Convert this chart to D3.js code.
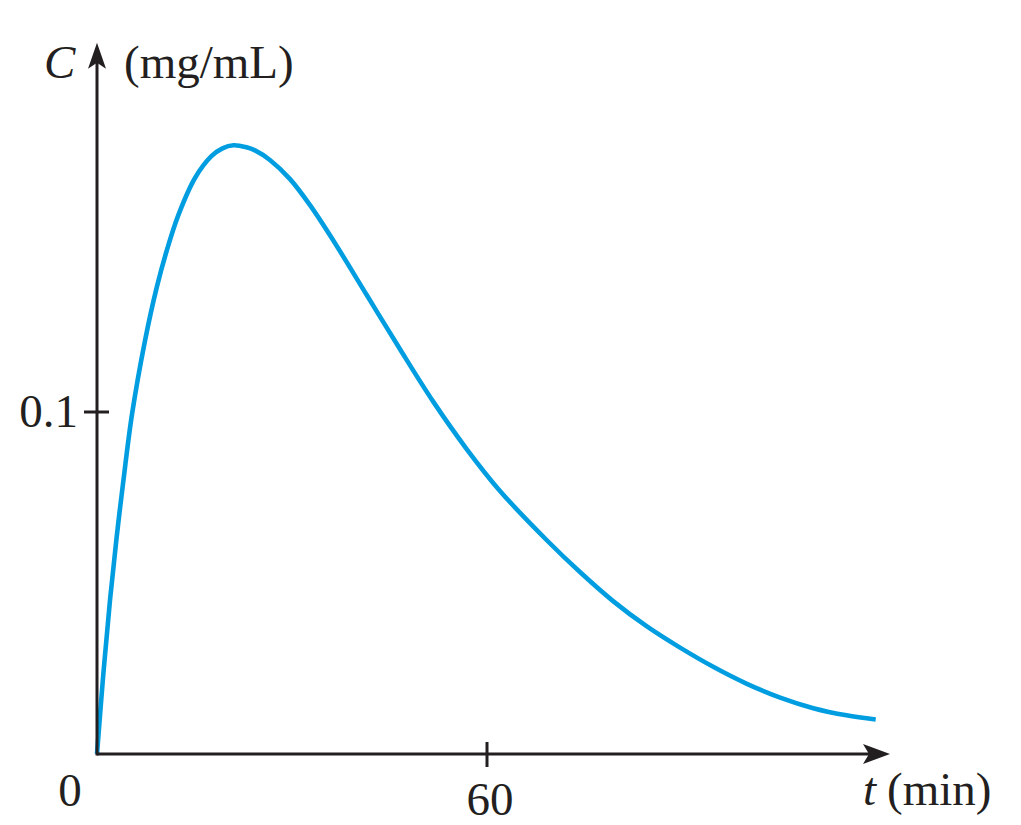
<!DOCTYPE html>
<html>
<head>
<meta charset="utf-8">
<script src="https://cdn.jsdelivr.net/npm/d3@7"></script>
<style>
  html, body { margin: 0; padding: 0; background: #fff; }
  svg { display: block; }
  text { font-family: "Liberation Serif", "Times New Roman", serif; fill: #231f20; }
</style>
</head>
<body>
<svg id="chart" width="1021" height="825"></svg>
<script>
// Data
const times = [0, 1, 2, 3, 4, 5.4, 7.4, 9.2, 10.7, 12.5, 15.1, 17.6, 19.3, 21.0, 23.0, 24.3, 26.6, 29.7, 32.8, 36.4, 41.5, 46.6, 51.7, 56.9, 62.0, 69.2, 74.3, 79.4, 84.6, 89.7, 94.8, 99.9, 105.1, 110.2, 115.3, 119.8];
const conc  = [0, 0.024, 0.045, 0.063, 0.079, 0.0995, 0.121, 0.1365, 0.147, 0.1575, 0.1685, 0.1748, 0.1771, 0.1780, 0.1774, 0.1765, 0.1737, 0.1681, 0.1604, 0.1500, 0.1342, 0.1184, 0.1031, 0.0891, 0.0769, 0.0625, 0.0532, 0.0447, 0.0373, 0.0311, 0.0255, 0.0206, 0.0165, 0.0134, 0.0113, 0.0101];
const xTicks = [60];
const yTicks = [0.1];
const xTickLabels = ["60"];
const yTickLabels = ["0.1"];
const originLabel = "0";
const xAxisMax = 122;    // where the arrow tip sits
const yAxisMax = 0.208;

const svg = d3.select("#chart");
const x = d3.scaleLinear().domain([0, 120]).range([97, 877]);
const y = d3.scaleLinear().domain([0, 0.1]).range([754, 412]);
const ink = "#231f20";

// Curve
const line = d3.line()
  .x((d, i) => x(times[i]))
  .y(d => y(d))
  .curve(d3.curveCatmullRom.alpha(0.5));
svg.append("path")
  .datum(conc)
  .attr("d", line)
  .attr("fill", "none")
  .attr("stroke", "#009ee0")
  .attr("stroke-width", 4.6)
  .attr("stroke-linecap", "butt");

// Axes lines
svg.append("line")
  .attr("x1", x(0)).attr("x2", x(xAxisMax) - 10)
  .attr("y1", y(0)).attr("y2", y(0))
  .attr("stroke", ink).attr("stroke-width", 3);
svg.append("line")
  .attr("x1", x(0)).attr("x2", x(0))
  .attr("y1", y(0) + 1.5).attr("y2", y(yAxisMax) + 10)
  .attr("stroke", ink).attr("stroke-width", 3);

// Arrowheads
const xt = x(xAxisMax), yt = y(0);
svg.append("path")
  .attr("d", `M${xt},${yt} L${xt - 27},${yt - 10} L${xt - 21},${yt} L${xt - 27},${yt + 10} Z`)
  .attr("fill", ink);
const ax = x(0), ay = y(yAxisMax);
svg.append("path")
  .attr("d", `M${ax},${ay} L${ax - 9},${ay + 26} L${ax},${ay + 20} L${ax + 9},${ay + 26} Z`)
  .attr("fill", ink);

// Ticks
svg.selectAll(".xt").data(xTicks).enter().append("line")
  .attr("x1", d => x(d)).attr("x2", d => x(d))
  .attr("y1", y(0) - 12).attr("y2", y(0) + 13)
  .attr("stroke", ink).attr("stroke-width", 3);
svg.selectAll(".yt").data(yTicks).enter().append("line")
  .attr("x1", x(0) - 13).attr("x2", x(0) + 12)
  .attr("y1", d => y(d)).attr("y2", d => y(d))
  .attr("stroke", ink).attr("stroke-width", 3);

// Tick labels
svg.selectAll(".xl").data(xTicks).enter().append("text")
  .attr("x", d => x(d) + 3).attr("y", 815)
  .attr("text-anchor", "middle")
  .attr("font-size", 47)
  .text((d, i) => xTickLabels[i]);
svg.selectAll(".yl").data(yTicks).enter().append("text")
  .attr("x", 78).attr("y", d => y(d) + 15)
  .attr("text-anchor", "end")
  .attr("font-size", 47)
  .text((d, i) => yTickLabels[i]);
svg.append("text")
  .attr("x", 70).attr("y", 806)
  .attr("text-anchor", "middle")
  .attr("font-size", 47)
  .text(originLabel);

// Axis titles
svg.append("text")
  .attr("x", 44).attr("y", 78)
  .attr("font-size", 47).attr("font-style", "italic")
  .text("C");
svg.append("text")
  .attr("x", 124).attr("y", 78)
  .attr("font-size", 47)
  .text("(mg/mL)");
svg.append("text")
  .attr("x", 863).attr("y", 805)
  .attr("font-size", 47).attr("font-style", "italic")
  .text("t");
svg.append("text")
  .attr("x", 887).attr("y", 805)
  .attr("font-size", 47)
  .text("(min)");
</script>
</body>
</html>
